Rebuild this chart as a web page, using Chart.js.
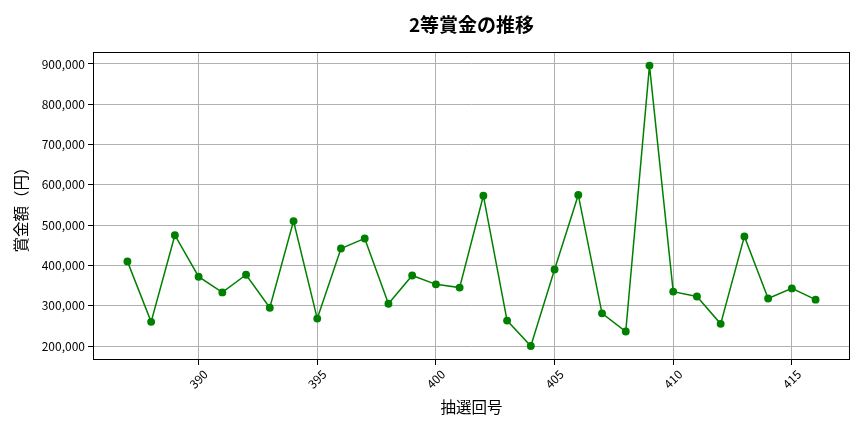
<!DOCTYPE html>
<html>
<head>
<meta charset="utf-8">
<script src="https://cdn.jsdelivr.net/npm/chart.js@4.4.0/dist/chart.umd.min.js"></script>
<style>
  html, body { margin: 0; padding: 0; background: #fff; }
  #wrap { width: 864px; height: 432px; }
</style>
</head>
<body>
<div id="wrap"><canvas id="chart" width="864" height="432"></canvas></div>
<script>
// draw numbers (抽選回号) and 2等 prize amounts
const drawNumbers = [387, 388, 389, 390, 391, 392, 393, 394, 395, 396,
  397, 398, 399, 400, 401, 402, 403, 404, 405, 406,
  407, 408, 409, 410, 411, 412, 413, 414, 415, 416];
const prizes = [410000, 260000, 475000, 372000, 333000, 377000, 295000, 510000, 268000, 442000,
  467000, 305000, 375000, 353000, 345000, 573000, 263000, 200000, 390000, 575000,
  281000, 236000, 896000, 335000, 323000, 255000, 472000, 318000, 343000, 315000];
const xTicks = [390, 395, 400, 405, 410, 415];
const yTicks = [200000, 300000, 400000, 500000, 600000, 700000, 800000, 900000];

const FONT = '"Noto Sans CJK JP", "Noto Sans", sans-serif';

// matplotlib-style box around the plot area
const frame = {
  id: 'frame',
  afterDraw(chart) {
    const { ctx, chartArea: a } = chart;
    ctx.save();
    ctx.strokeStyle = '#000';
    ctx.lineWidth = 1;
    ctx.strokeRect(a.left + 0.5, a.top + 0.5, a.right - a.left - 1, a.bottom - a.top - 1);
    ctx.restore();
  }
};

const points = drawNumbers.map((n, i) => ({ x: n, y: prizes[i] }));

new Chart(document.getElementById('chart'), {
  type: 'line',
  data: {
    datasets: [{
      data: points,
      borderColor: '#008000',
      backgroundColor: '#008000',
      borderWidth: 1.5,
      pointRadius: 3.2,
      pointHoverRadius: 3.2,
      tension: 0
    }]
  },
  options: {
    responsive: false,
    animation: false,
    layout: { padding: { left: 0, right: 14, top: 0, bottom: 0 } },
    plugins: {
      legend: { display: false },
      tooltip: { enabled: false },
      title: {
        display: true,
        text: '2等賞金の推移',
        fullSize: false,
        color: '#000',
        font: { family: FONT, size: 19, weight: 'bold' },
        padding: { top: 13, bottom: 16.2 }
      }
    },
    scales: {
      x: {
        type: 'linear',
        min: 385.55,
        max: 417.45,
        afterFit(s) { s.height = 72; },
        afterBuildTicks(s) { s.ticks = xTicks.map(v => ({ value: v })); },
        ticks: {
          color: '#000',
          font: { family: FONT, size: 12 },
          minRotation: 45,
          maxRotation: 45,
          labelOffset: 7,
          padding: 2
        },
        grid: { color: '#b0b0b0', lineWidth: 1, tickColor: '#000', tickLength: 5 },
        border: { display: false },
        title: {
          display: true,
          text: '抽選回号',
          color: '#000',
          font: { family: FONT, size: 15.5 },
          padding: { top: 4, bottom: 16 }
        }
      },
      y: {
        min: 165250,
        max: 929750,
        afterFit(s) { s.width = 93; },
        afterBuildTicks(s) { s.ticks = yTicks.map(v => ({ value: v })); },
        ticks: {
          color: '#000',
          font: { family: FONT, size: 12 },
          padding: 3,
          callback: v => v.toLocaleString('en-US')
        },
        grid: { color: '#b0b0b0', lineWidth: 1, tickColor: '#000', tickLength: 5 },
        border: { display: false },
        title: {
          display: true,
          text: '賞金額（円）',
          color: '#000',
          font: { family: FONT, size: 15.5 },
          padding: { top: 12, bottom: 4 }
        }
      }
    }
  },
  plugins: [frame]
});
</script>
</body>
</html>
